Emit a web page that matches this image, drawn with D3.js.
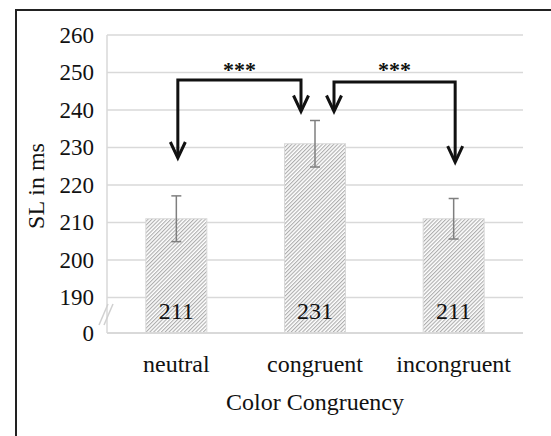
<!DOCTYPE html>
<html>
<head>
<meta charset="utf-8">
<script src="https://cdn.jsdelivr.net/npm/d3@7"></script>
<style>
  body { margin: 0; background: #fff; }
  text { font-family: "Liberation Serif", "Times New Roman", serif; }
</style>
</head>
<body>
<div id="chart"></div>
<script>
var categories = ["neutral", "congruent", "incongruent"];
var means = [211, 231, 211];
var errors = [6.1, 6.2, 5.4];
var tickValues = [0, 190, 200, 210, 220, 230, 240, 250, 260];

var w = 551, h = 436;
var plotLeft = 107, plotRight = 523, plotTop = 35, plotBase = 333;

var svg = d3.select("#chart").append("svg")
    .attr("width", w)
    .attr("height", h);

// outer frame (only top and left visible)
svg.append("rect")
    .attr("x", 16).attr("y", 10)
    .attr("width", 600).attr("height", 500)
    .attr("fill", "none")
    .attr("stroke", "#222")
    .attr("stroke-width", 2);

var x = d3.scaleBand().domain(categories).range([plotLeft, plotRight]).paddingInner(0.56).paddingOuter(0.28);
// broken axis: 0 sits just below 190
var y = d3.scaleLinear().domain([0, 190, 260]).range([plotBase, 297.5, plotTop]);

// hatch pattern
var defs = svg.append("defs");
var pat = defs.append("pattern")
    .attr("id", "hatch")
    .attr("patternUnits", "userSpaceOnUse")
    .attr("width", 2.7).attr("height", 4)
    .attr("patternTransform", "rotate(45)");
pat.append("rect").attr("width", 2.7).attr("height", 4).attr("fill", "#fff");
pat.append("line")
    .attr("x1", 0.6).attr("y1", 0).attr("x2", 0.6).attr("y2", 4)
    .attr("stroke", "#a3a3a3").attr("stroke-width", 1);

// gridlines
svg.append("g").selectAll("line")
    .data(tickValues.filter(function(d) { return d > 0; }))
    .enter().append("line")
    .attr("x1", plotLeft).attr("x2", plotRight)
    .attr("y1", function(d) { return y(d); })
    .attr("y2", function(d) { return y(d); })
    .attr("stroke", "#d9d9d9").attr("stroke-width", 1.5);

// left axis line
svg.append("line")
    .attr("x1", plotLeft).attr("x2", plotLeft).attr("y1", plotTop).attr("y2", plotBase)
    .attr("stroke", "#d9d9d9").attr("stroke-width", 1.5);

// y tick labels
var yAxis = d3.axisLeft(y).tickValues(tickValues).tickSize(0).tickPadding(13);
var gy = svg.append("g").attr("transform", "translate(" + plotLeft + ",0)").call(yAxis);
gy.select(".domain").remove();
gy.selectAll("text")
    .attr("font-family", "Liberation Serif, serif")
    .attr("font-size", 23)
    .attr("fill", "#111");

// bars
svg.append("g").selectAll("rect")
    .data(means)
    .enter().append("rect")
    .attr("x", function(d, i) { return x(categories[i]); })
    .attr("y", function(d) { return y(d); })
    .attr("width", x.bandwidth())
    .attr("height", function(d) { return y(0) - y(d); })
    .attr("fill", "url(#hatch)")
    .attr("stroke", "#d9d9d9").attr("stroke-width", 1);

// baseline
svg.append("line")
    .attr("x1", plotLeft).attr("x2", plotRight).attr("y1", plotBase).attr("y2", plotBase)
    .attr("stroke", "#d9d9d9").attr("stroke-width", 2);

// axis break marks
[0, 5].forEach(function(o) {
  svg.append("line")
    .attr("x1", plotLeft - 8 + o).attr("y1", y(0) - 8)
    .attr("x2", plotLeft + 1 + o).attr("y2", y(0) - 29)
    .attr("stroke", "#d0d0d0").attr("stroke-width", 1.5);
});

// error bars
var eb = svg.append("g").attr("stroke", "#7f7f7f").attr("stroke-width", 1.5);
means.forEach(function(d, i) {
  var c = x(categories[i]) + x.bandwidth() / 2;
  eb.append("line").attr("x1", c).attr("x2", c).attr("y1", y(d + errors[i])).attr("y2", y(d - errors[i]));
  eb.append("line").attr("x1", c - 5).attr("x2", c + 5).attr("y1", y(d + errors[i])).attr("y2", y(d + errors[i]));
  eb.append("line").attr("x1", c - 5).attr("x2", c + 5).attr("y1", y(d - errors[i])).attr("y2", y(d - errors[i]));
});

// value labels
svg.append("g").selectAll("text")
    .data(means)
    .enter().append("text")
    .attr("x", function(d, i) { return x(categories[i]) + x.bandwidth() / 2; })
    .attr("y", 319)
    .attr("text-anchor", "middle")
    .attr("font-size", 24)
    .attr("fill", "#111")
    .text(function(d) { return d; });

// category labels
svg.append("g").selectAll("text")
    .data(categories)
    .enter().append("text")
    .attr("x", function(d) { return x(d) + x.bandwidth() / 2; })
    .attr("y", 372)
    .attr("text-anchor", "middle")
    .attr("font-size", 24)
    .attr("fill", "#111")
    .text(function(d) { return d; });

svg.append("text")
    .attr("x", (plotLeft + plotRight) / 2).attr("y", 410)
    .attr("text-anchor", "middle")
    .attr("font-size", 24)
    .attr("fill", "#111")
    .text("Color Congruency");

svg.append("text")
    .attr("transform", "translate(44,186) rotate(-90)")
    .attr("text-anchor", "middle")
    .attr("font-size", 24)
    .attr("fill", "#111")
    .text("SL in ms");

// significance brackets
function cx(i) { return x(categories[i]) + x.bandwidth() / 2; }
function arrowHead(g, px, py) {
  g.append("path")
    .attr("d", "M" + (px - 7.5) + "," + (py - 16) + "L" + px + "," + py + "L" + (px + 7.5) + "," + (py - 16));
}
var br = svg.append("g")
    .attr("fill", "none").attr("stroke", "#111").attr("stroke-width", 3)
    .attr("stroke-linejoin", "miter");

var b1 = { x1: cx(0) + 1.5, x2: cx(1) - 14, yTop: 248, t1: 227.2, t2: 239.6 };
var b2 = { x1: cx(1) + 19, x2: cx(2) + 1.5, yTop: 247.5, t1: 239.6, t2: 226.1 };
[b1, b2].forEach(function(b) {
  br.append("path")
    .attr("d", "M" + b.x1 + "," + (y(b.t1) - 1) + "L" + b.x1 + "," + y(b.yTop) +
               "L" + b.x2 + "," + y(b.yTop) + "L" + b.x2 + "," + (y(b.t2) - 1));
  arrowHead(br, b.x1, y(b.t1));
  arrowHead(br, b.x2, y(b.t2));
});

svg.append("text").attr("x", (b1.x1 + b1.x2) / 2).attr("y", 77)
    .attr("text-anchor", "middle").attr("font-size", 22).attr("font-weight", "bold")
    .attr("fill", "#111").text("***");
svg.append("text").attr("x", (b2.x1 + b2.x2) / 2).attr("y", 77)
    .attr("text-anchor", "middle").attr("font-size", 22).attr("font-weight", "bold")
    .attr("fill", "#111").text("***");
</script>
</body>
</html>
